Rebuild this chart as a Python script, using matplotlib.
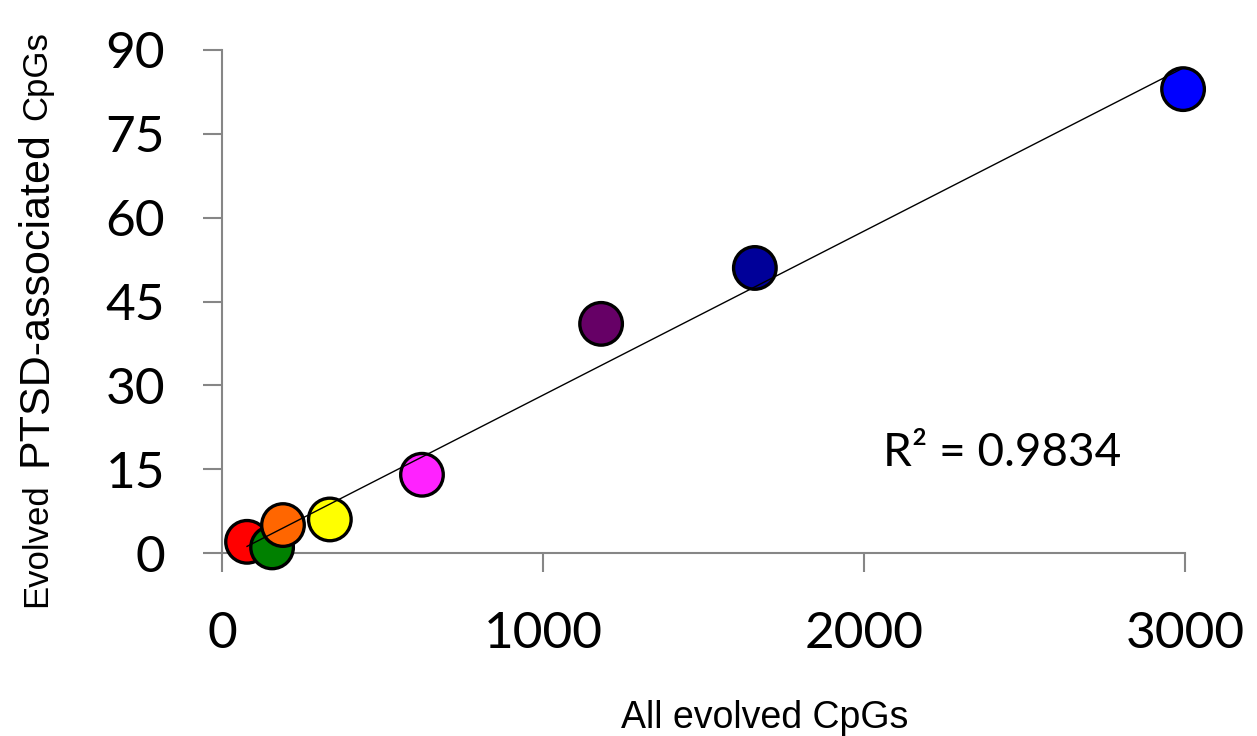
import numpy as np
import matplotlib.pyplot as plt

# values
all_cpgs = [78, 156, 190, 336, 623, 1181, 1660, 2994]
ptsd_cpgs = [2, 1, 5, 6, 14, 41, 51, 83]
colors = ['#FF0000', '#008000', '#FF6600', '#FFFF00', '#FF22FF',
          '#660066', '#000099', '#0000FF']
r2_text = 'R² = 0.9834'

fig = plt.figure(figsize=(12.57, 7.36), dpi=100)
ax = fig.add_axes([222 / 1257, 1 - 553 / 736, (1185 - 222) / 1257, (553 - 50) / 736])

ax.scatter(all_cpgs, ptsd_cpgs, s=940, c=colors, edgecolors='black',
           linewidths=2.4, zorder=3, clip_on=False)

# linear trendline over the data range
slope, icpt = np.polyfit(all_cpgs, ptsd_cpgs, 1)
xl = np.array([min(all_cpgs), max(all_cpgs)])
ax.plot(xl, slope * xl + icpt, color='black', lw=1.0, zorder=4, clip_on=False)

ax.set_xlim(0, 3000)
ax.set_ylim(0, 90)
ax.set_xticks([0, 1000, 2000, 3000])
ax.set_yticks(np.arange(0, 91, 15))

for s in ['top', 'right']:
    ax.spines[s].set_visible(False)
for s in ['left', 'bottom']:
    ax.spines[s].set_color('#868686')
    ax.spines[s].set_linewidth(1.5)
ax.tick_params(direction='out', length=14, width=1.5, color='#868686',
               labelsize=37)
for lab in ax.get_xticklabels() + ax.get_yticklabels():
    lab.set_family('Lato')
ax.tick_params(axis='x', pad=28)
ax.tick_params(axis='y', pad=27)

ax.text(2060, 17.9, r2_text, fontsize=33, family='Lato', va='center')

fig.text(765 / 1257, 1 - 718 / 736, 'All evolved CpGs', fontsize=27,
         family='Liberation Sans', ha='center', va='center')

# y label with mixed font sizes, stacked bottom to top on a shared baseline
fig.canvas.draw()
renderer = fig.canvas.get_renderer()
ypos = 607
parts = [('Evolved', 25), ('PTSD-associated', 31), ('CpGs', 25)]
gaps = [17, 11]
for i, (txt, size) in enumerate(parts):
    t = fig.text(46 / 1257, 1 - ypos / 736, txt, fontsize=size,
                 family='Liberation Sans', rotation=90, rotation_mode='anchor',
                 ha='left', va='baseline')
    bb = t.get_window_extent(renderer)
    ypos -= bb.height
    if i < len(gaps):
        ypos -= gaps[i]

fig.savefig('out.png', dpi=100)
